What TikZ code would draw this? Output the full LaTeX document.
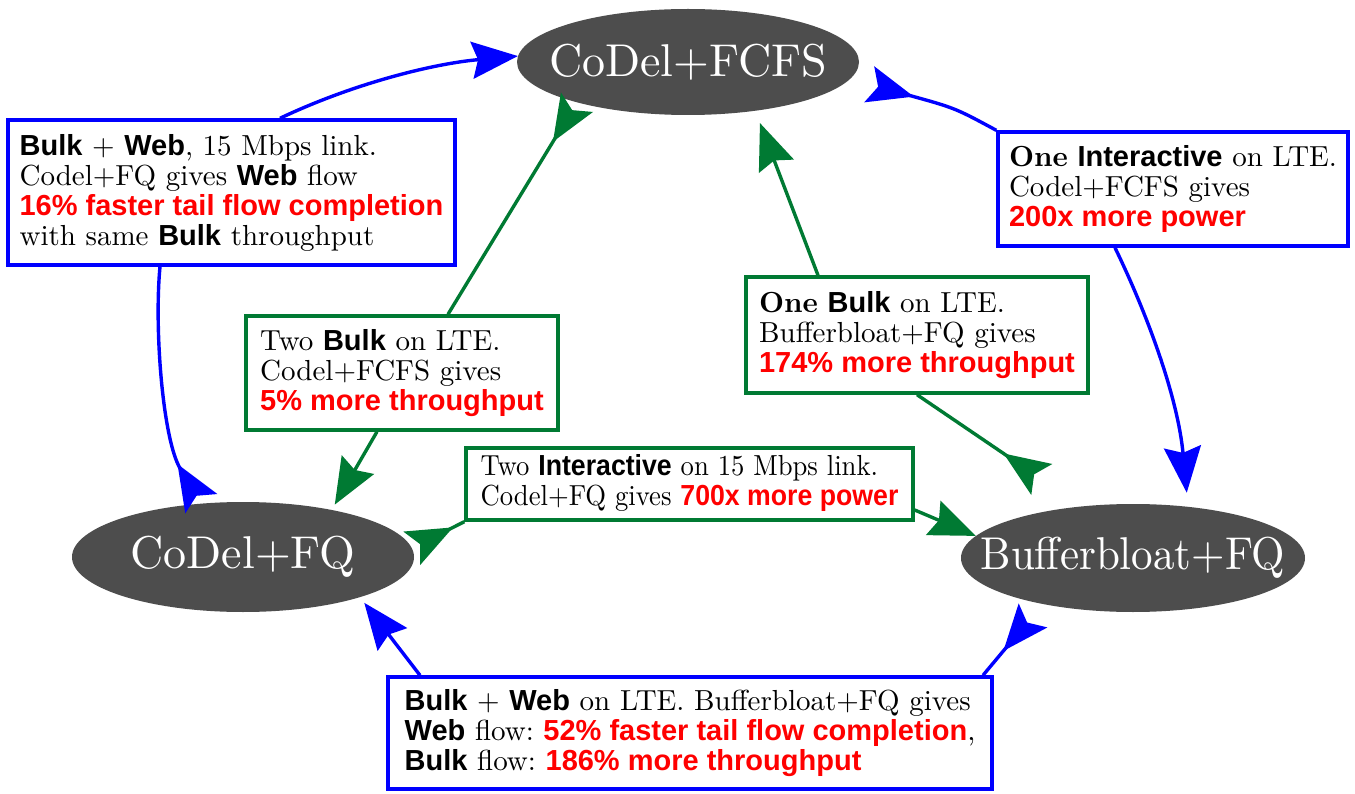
\documentclass[tikz,border=0pt]{standalone}
\usepackage{fontspec}
\setmainfont{lmroman10-regular.otf}[BoldFont=lmroman10-bold.otf]
\newfontfamily\lsans{Liberation Sans}
\usetikzlibrary{arrows.meta,shapes.geometric}
\definecolor{dgreen}{RGB}{0,122,51}
\definecolor{ngray}{RGB}{77,77,77}
\newcommand\SB[1]{{\lsans\bfseries #1}}
\newcommand\RD[1]{{\lsans\bfseries\color{red}#1}}
\frenchspacing
\begin{document}
\begin{tikzpicture}[x=1pt,y=-1pt,
 state/.style={ellipse,fill=ngray,draw=none,inner sep=0pt},
 lbl/.style={text=white,font=\fontsize{46}{50}\selectfont},
 infobox/.style={draw,line width=3.4pt,fill=white,align=left,inner sep=4pt,font=\frenchspacing\fontsize{29}{30}\selectfont},
 bluebox/.style={infobox,draw=blue},
 greenbox/.style={infobox,draw=dgreen},
 bl/.style={draw=blue,line width=3.4pt},
 gr/.style={draw=dgreen,line width=3.4pt},
 fwd/.style={-{Stealth[length=46pt,width=37pt,inset=6pt]}},
 rev/.style={-{Stealth[length=46pt,width=37pt,inset=9pt,reversed]}},
]
\fill[white] (0,0) rectangle (1355,794);
\useasboundingbox (0,0) rectangle (1355,794);

% states
\node[state,minimum width=342pt,minimum height=106pt,label={[lbl]center:CoDel+FCFS}] (fcfs) at (688,62) {};
\node[state,minimum width=342pt,minimum height=110pt,label={[lbl]center:CoDel+FQ}] (fq) at (243,557) {};
\node[state,minimum width=344pt,minimum height=108pt,label={[lbl]center:\scalebox{0.935}[1]{Bufferbloat+FQ}}] (bb) at (1133,558) {};

% boxes
\node[bluebox,minimum width=447pt,minimum height=145pt] (bA) at (231.5,192.5)
 {\SB{Bulk} + \SB{Web}, 15 Mbps link.\\Codel+FQ gives \SB{Web} flow\\\RD{16\% faster tail flow completion}\\with same \SB{Bulk} throughput};
\node[bluebox,minimum width=350pt,minimum height=114pt] (bB) at (1173,189)
 {\textbf{One} \SB{Interactive} on LTE.\\Codel+FCFS gives\\\RD{200x more power}};
\node[greenbox,minimum width=312pt,minimum height=114pt] (bC) at (402,373)
 {Two \SB{Bulk} on LTE.\\Codel+FCFS gives\\\RD{5\% more throughput}};
\node[greenbox,minimum width=342pt,minimum height=116pt] (bD) at (917,335)
 {\textbf{One} \SB{Bulk} on LTE.\\Bufferbloat+FQ gives\\\RD{174\% more throughput}};
\node[greenbox,minimum width=447pt,minimum height=72pt] (bE) at (689.5,484)
 {\scalebox{0.92}[1]{\begin{tabular}{@{}l@{}}Two \SB{Interactive} on 15 Mbps link.\\Codel+FQ gives \RD{700x more power}\end{tabular}}};
\node[bluebox,minimum width=604pt,minimum height=112pt] (bF) at (690,733)
 {\SB{Bulk} + \SB{Web} on LTE. Bufferbloat+FQ gives\\\SB{Web} flow: \RD{52\% faster tail flow completion},\\\SB{Bulk} flow: \RD{186\% more throughput}};

% blue connectors
\draw[bl,fwd] ([xshift=48.5pt]bA.north) .. controls (350,85) and (430,64) .. (fcfs.178);
\draw[bl,rev] ([xshift=-71.5pt]bA.south) .. controls (154,330) and (163,440) .. (fq.128);
\draw[bl,rev,shorten >=20pt] (bB.north west) .. controls (955,108) .. (fcfs.-6);
\draw[bl,fwd,shorten >=14pt] ([xshift=-58pt]bB.south) .. controls (1150,320) and (1178,400) .. (bb.43);
\draw[bl,fwd,shorten >=7pt] ([xshift=-270pt]bF.north) -- (fq.-19);
\draw[bl,rev,shorten >=15pt] ([xshift=293pt]bF.north) -- (bb.207);

% green connectors
\draw[gr,rev] ([xshift=46pt]bC.north) -- (fcfs.200);
\draw[gr,fwd,shorten >=6pt] ([xshift=-25pt]bC.south) -- (fq.28);
\draw[gr,fwd,shorten >=13pt] ([xshift=-99pt]bD.north) -- (fcfs.-36);
\draw[gr,rev,shorten >=48pt] (bD.south) -- (bb.135);
\draw[gr,rev] (bE.south west) -- (fq.3);
\draw[gr,fwd] ([yshift=-26pt]bE.east) -- (bb.172);
\end{tikzpicture}
\end{document}
